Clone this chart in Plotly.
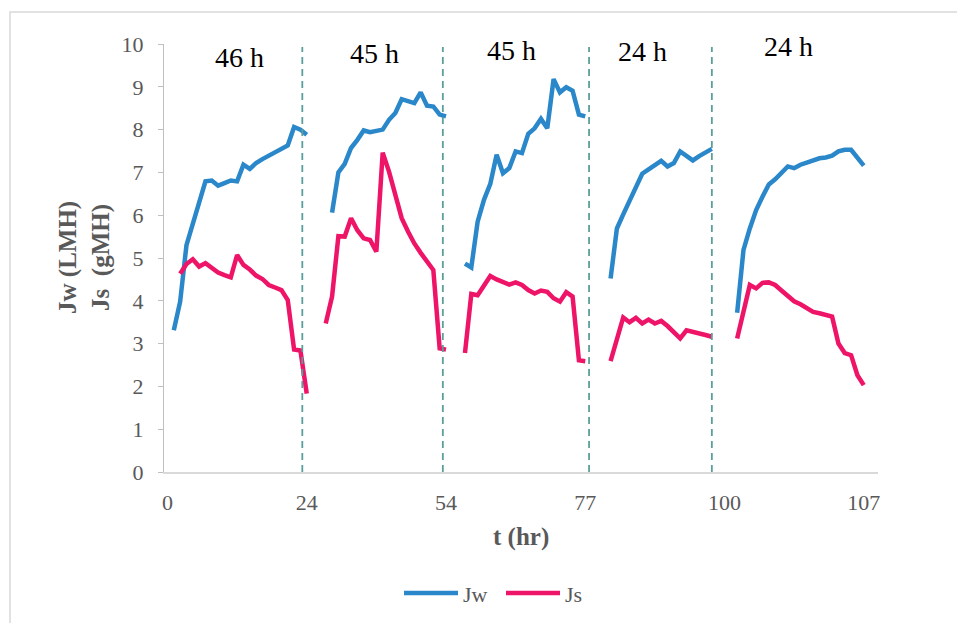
import plotly.graph_objects as go

# ---- data -------------------------------------------------------------
# sample index axis (one category per sample), labelled every 22nd sample
tick_labels = ["0", "24", "54", "77", "100", "107"]
label_step = 22
n_samples = 113

run_names = ["46 h", "45 h", "45 h", "24 h", "24 h"]
jw_start = [1, 26, 47, 70, 90]
js_start = [2, 25, 47, 70, 90]

jw_run1 = [3.31, 3.98, 5.30, 5.77, 6.28, 6.79, 6.81, 6.69, 6.75, 6.81, 6.79,
           7.18, 7.08, 7.22, 7.31, 7.39, 7.49, 7.57, 7.63, 8.06, 8.00, 7.88]
jw_run2 = [6.06, 7.00, 7.20, 7.57, 7.76, 7.98, 7.94, 7.96, 8.00, 8.23, 8.39,
           8.71, 8.66, 8.62, 8.87, 8.56, 8.54, 8.35, 8.31]
jw_run3 = [4.87, 4.78, 5.85, 6.36, 6.73, 7.41, 6.98, 7.10, 7.49, 7.45, 7.90,
           8.03, 8.25, 8.03, 9.18, 8.87, 8.99, 8.91, 8.35, 8.31]
jw_run4 = [4.52, 5.69, 6.02, 6.32, 6.65, 6.97, 7.07, 7.17, 7.27, 7.14, 7.22,
           7.49, 7.39, 7.28, 7.38, 7.46, 7.55]
jw_run5 = [3.72, 5.19, 5.69, 6.12, 6.43, 6.72, 6.84, 7.00, 7.14, 7.10, 7.18,
           7.23, 7.29, 7.33, 7.35, 7.39, 7.49, 7.53, 7.53, 7.33, 7.16]

js_run1 = [4.63, 4.86, 4.97, 4.80, 4.88, 4.76, 4.66, 4.60, 4.55, 5.07, 4.84,
           4.73, 4.59, 4.51, 4.37, 4.31, 4.25, 4.02, 2.86, 2.84, 1.83]
js_run2 = [3.47, 4.10, 5.51, 5.50, 5.93, 5.65, 5.46, 5.42, 5.15, 7.46, 7.02,
           6.51, 5.93, 5.62, 5.34, 5.12, 4.91, 4.72, 2.89, 2.86]
js_run3 = [2.78, 4.16, 4.13, 4.37, 4.58, 4.50, 4.43, 4.38, 4.43, 4.37, 4.25,
           4.17, 4.24, 4.21, 4.06, 3.98, 4.20, 4.10, 2.61, 2.59]
js_run4 = [2.59, 3.10, 3.61, 3.50, 3.60, 3.47, 3.56, 3.47, 3.53, 3.41, 3.27,
           3.12, 3.31, 3.28, 3.25, 3.20, 3.16]
js_run5 = [3.12, 3.74, 4.37, 4.29, 4.42, 4.43, 4.37, 4.24, 4.13, 3.99, 3.92,
           3.82, 3.74, 3.71, 3.67, 3.63, 3.00, 2.78, 2.73, 2.26, 2.03]

# dashed separators between runs (in sample units)
run_breaks = [21.3, 43.5, 66.6, 86.0]
# run duration labels: (sample position, flux level)
run_label_x = [11.4, 32.7, 54.4, 75.1, 98.1]
run_label_y = [9.68, 9.77, 9.84, 9.82, 9.94]

# ---- styling ----------------------------------------------------------
JW_COLOR = "#2a87c9"
JS_COLOR = "#ee1468"
SEP_COLOR = "#5c9e9a"
AXIS_TEXT = "#595959"
SERIF = "Liberation Serif"

W, H = 957, 623
PL, PR, PT, PB = 164, 878, 44, 472


def px_x(px):
    return (px - PL) / (PR - PL)


def px_y(py):
    return (PB - py) / (PB - PT)


def build(starts, runs):
    y = [None] * n_samples
    for s, run in zip(starts, runs):
        for k, v in enumerate(run):
            y[s + k] = v
    return y


x = list(range(n_samples))
jw = build(jw_start, [jw_run1, jw_run2, jw_run3, jw_run4, jw_run5])
js = build(js_start, [js_run1, js_run2, js_run3, js_run4, js_run5])

fig = go.Figure()
fig.add_trace(go.Scatter(x=x, y=jw, mode="lines", name="Jw",
                         line=dict(color=JW_COLOR, width=4.5),
                         connectgaps=False, showlegend=False))
fig.add_trace(go.Scatter(x=x, y=js, mode="lines", name="Js",
                         line=dict(color=JS_COLOR, width=4.5),
                         connectgaps=False, showlegend=False))

shapes = []
for b in run_breaks:
    shapes.append(dict(type="line", xref="x", yref="y", x0=b, x1=b,
                       y0=0, y1=9.93,
                       line=dict(color=SEP_COLOR, width=1.8, dash="7px,5px")))

# outer frame
shapes.append(dict(type="rect", xref="paper", yref="paper",
                   x0=px_x(10), x1=px_x(975), y0=px_y(12), y1=px_y(640),
                   line=dict(color="#d9d9d9", width=1.5),
                   fillcolor="rgba(0,0,0,0)", layer="below"))

annotations = []
for name, lx, ly in zip(run_names, run_label_x, run_label_y):
    annotations.append(dict(x=lx, y=ly, xref="x", yref="y", text=name,
                            showarrow=False,
                            font=dict(family=SERIF, size=28, color="black"),
                            xanchor="center", yanchor="middle"))

annotations.append(dict(x=px_x(84), y=px_y(258), xref="paper", yref="paper",
                        text="<b>Jw (LMH)</b><br><b>Js  (gMH)</b>",
                        textangle=-90, showarrow=False,
                        font=dict(family=SERIF, size=25, color=AXIS_TEXT),
                        xanchor="center", yanchor="middle"))
annotations.append(dict(x=px_x(521), y=px_y(537), xref="paper", yref="paper",
                        text="<b>t (hr)</b>", showarrow=False,
                        font=dict(family=SERIF, size=25, color=AXIS_TEXT),
                        xanchor="center", yanchor="middle"))

# legend drawn as swatches + labels
legend_items = [("Jw", JW_COLOR, 404, 458), ("Js", JS_COLOR, 506, 560)]
for label, color, a, b in legend_items:
    shapes.append(dict(type="line", xref="paper", yref="paper",
                       x0=px_x(a), x1=px_x(b), y0=px_y(593), y1=px_y(593),
                       line=dict(color=color, width=4.5)))
    annotations.append(dict(x=px_x(b + 3), y=px_y(594), xref="paper",
                            yref="paper", text=label, showarrow=False,
                            font=dict(family=SERIF, size=22, color=AXIS_TEXT),
                            xanchor="left", yanchor="middle"))

fig.update_layout(
    width=W, height=H,
    margin=dict(l=PL, r=W - PR, t=PT, b=H - PB),
    paper_bgcolor="white", plot_bgcolor="white",
    shapes=shapes, annotations=annotations,
    showlegend=False,
    font=dict(family=SERIF, color=AXIS_TEXT),
)
fig.update_xaxes(
    range=[-0.55, 112.25],
    tickvals=[i * label_step for i in range(len(tick_labels))],
    ticktext=tick_labels,
    showgrid=False, zeroline=False,
    showline=True, linecolor="#d9d9d9", linewidth=1.5,
    ticks="", ticklabelstandoff=10,
    tickfont=dict(family=SERIF, size=22, color=AXIS_TEXT),
)
fig.update_yaxes(
    range=[0, 10], dtick=1,
    showgrid=False, zeroline=False,
    showline=True, linecolor="#bfbfbf", linewidth=1,
    ticks="outside", ticklen=5, tickcolor="#bfbfbf",
    ticklabelstandoff=10,
    tickfont=dict(family=SERIF, size=22, color=AXIS_TEXT),
)

fig.write_html("out.html")
